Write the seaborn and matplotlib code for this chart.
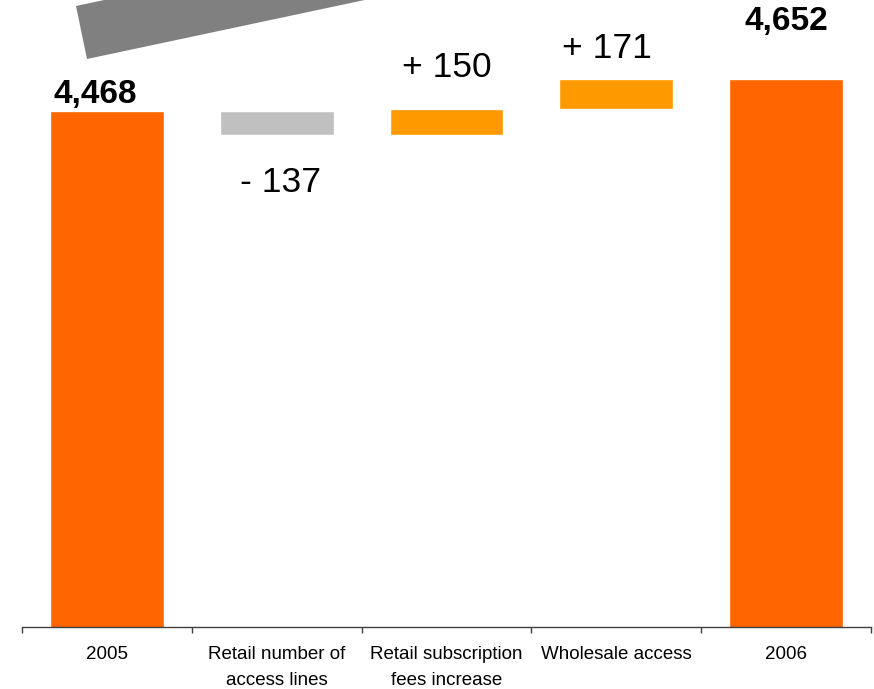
import matplotlib
matplotlib.use("Agg")
import matplotlib.pyplot as plt
from matplotlib.patches import Polygon
import seaborn as sns
import pandas as pd

categories = ["2005", "Retail number of\naccess lines", "Retail subscription\nfees increase",
              "Wholesale access", "2006"]
changes = [4468, -137, 150, 171, 4652]
kinds = ["total", "delta", "delta", "delta", "total"]
value_labels = ["4,468", "- 137", "+ 150", "+ 171", "4,652"]

# waterfall geometry derived from the values
bottoms, heights = [], []
running = 0
for v, k in zip(changes, kinds):
    if k == "total":
        bottoms.append(0)
        heights.append(v)
        running = v
    else:
        lo = min(running, running + v)
        bottoms.append(lo)
        heights.append(abs(v))
        running += v

colors = ["#FF6600", "#C0C0C0", "#FF9900", "#FF9900", "#FF6600"]

sns.set_theme(style="white")
plt.rcParams["font.family"] = ["Liberation Sans", "DejaVu Sans"]

fig = plt.figure(figsize=(8.74, 6.89), dpi=100)
ax = fig.add_axes([22 / 874, 62 / 689, 849 / 874, 627 / 689])

df = pd.DataFrame({"cat": categories, "h": heights})
sns.barplot(data=df, x="cat", y="h", hue="cat", palette=colors, legend=False,
            width=0.67, saturation=1, ax=ax)
for patch, b, h in zip(ax.patches, bottoms, heights):
    patch.set_y(b)
    patch.set_height(h)

ax.set_xlim(-0.5, len(categories) - 0.5)
ax.set_ylim(1555, 5096)
ax.set_xlabel("")
ax.set_ylabel("")
ax.set_yticks([])

# boundary tick marks, labels centred in each category
ax.set_xticks([i - 0.5 for i in range(len(categories) + 1)])
ax.set_xticklabels([])
ax.set_xticks(range(len(categories)), minor=True)
ax.set_xticklabels(categories, minor=True, fontsize=13.5, color="#000000", linespacing=1.65)
ax.tick_params(axis="x", which="major", length=4, width=1, color="#404040", direction="out")
ax.tick_params(axis="x", which="minor", length=0, pad=14)
ax.xaxis.set_ticks_position("bottom")

for side in ["top", "left", "right"]:
    ax.spines[side].set_visible(False)
ax.spines["bottom"].set_color("#404040")
ax.spines["bottom"].set_linewidth(1)

# value labels: (dx, dy) in pixels relative to the bar edge
label_offsets = [(-12, 8), (4, -57), (0, 32), (-9, 21), (0, 49)]
for i, (lab, v, k) in enumerate(zip(value_labels, changes, kinds)):
    dx, dy = label_offsets[i]
    if v < 0:
        anchor = bottoms[i]
    else:
        anchor = bottoms[i] + heights[i]
    ax.annotate(lab, xy=(i, anchor), xytext=(dx * 0.72, dy * 0.72),
                textcoords="offset points", ha="center", va="baseline",
                fontsize=24 if k == "total" else 25.5,
                fontweight="bold" if k == "total" else "normal",
                color="#000000", annotation_clip=False)

# grey growth arrow shaft at the top-left
W, H = 874, 689
pts = [(76, 6), (87, 59), (520, -33), (509, -86)]
arrow = Polygon([(x / W, 1 - y / H) for x, y in pts], closed=True,
                transform=fig.transFigure, facecolor="#808080", edgecolor="none")
fig.patches.append(arrow)

fig.savefig("out.png", dpi=100)
